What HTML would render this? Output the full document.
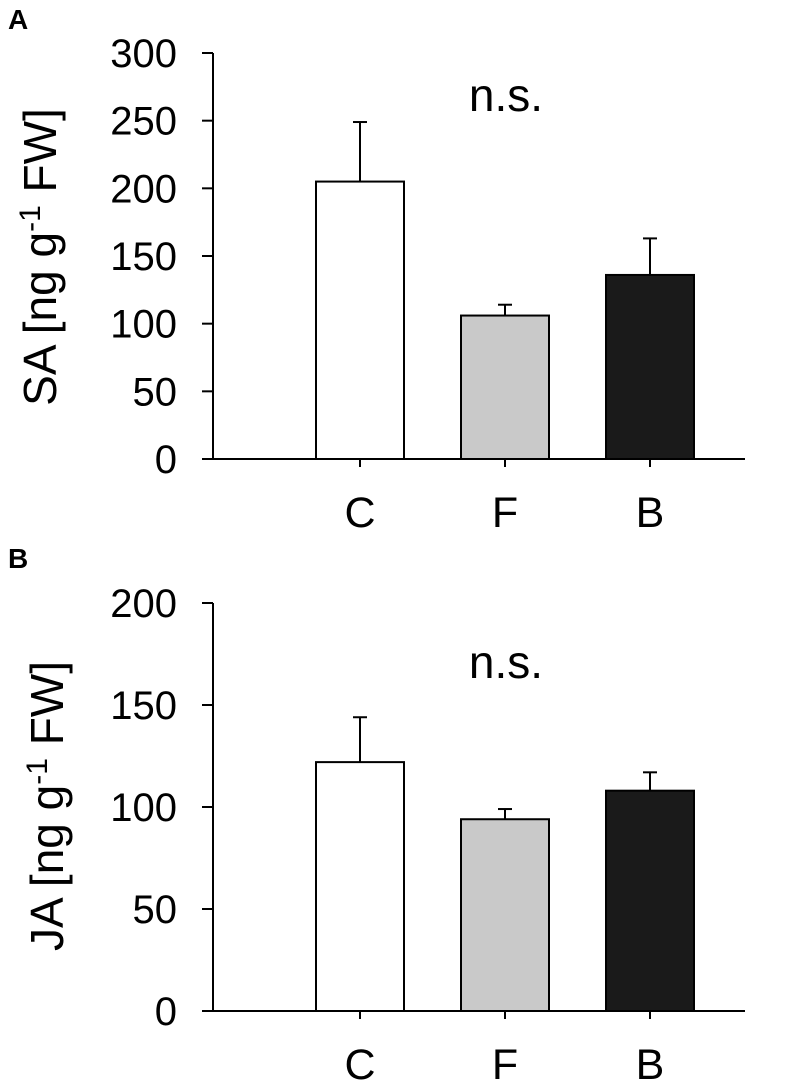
<!DOCTYPE html>
<html><head><meta charset="utf-8"><style>
body{margin:0;background:#fff;}
svg{display:block;font-family:"Liberation Sans",Arial,sans-serif;}
</style></head><body>
<svg id="chart" width="804" height="1088"></svg>
<script>
const categories=["C","F","B"];
const saValues=[205,106,136];
const saErrors=[44,8,27];
const saTicks=[0,50,100,150,200,250,300];
const jaValues=[122,94,108];
const jaErrors=[22,5,9];
const jaTicks=[0,50,100,150,200];
const fills=["#ffffff","#c9c9c9","#1a1a1a"];
const NS="http://www.w3.org/2000/svg";
const svg=document.getElementById('chart');
function mk(tag,attrs,parent){const e=document.createElementNS(NS,tag);for(const k in attrs)e.setAttribute(k,attrs[k]);(parent||svg).appendChild(e);return e;}
function panel(p){
  const g=mk('g',{});
  
  
  const ax=213, xr=745;
  const y=v=>p.y0-(v-0)/p.max*(p.y0-p.yTop);
  const xc=i=>360+i*145;
  const bw=88;
  const lab=mk('text',{x:8,y:p.labelY,'font-size':28,'font-weight':'bold'},g);lab.textContent=p.letter;
  
  
  categories.forEach((c,i)=>{
    const v=p.values[i],e=p.errors[i];
    const el=mk('line',{x1:xc(i),x2:xc(i),y1:y(v),y2:y(v+e),stroke:'#000','stroke-width':2},g);
    
    
    const cap=mk('line',{x1:xc(i)-7,x2:xc(i)+7,y1:y(v+e),y2:y(v+e),stroke:'#000','stroke-width':2},g);
    
    
    const r=mk('rect',{x:xc(i)-bw/2,y:y(v),width:bw,height:p.y0-y(v),fill:fills[i],stroke:'#000','stroke-width':2},g);
    
    
    const t=mk('line',{x1:xc(i),x2:xc(i),y1:p.y0,y2:p.y0+8,stroke:'#000','stroke-width':2},g);
    
    
    const tl=mk('text',{x:xc(i),y:p.y0+68,'font-size':43,'text-anchor':'middle'},g);tl.textContent=c;
    
    
  });
  const yax=mk('line',{x1:ax,x2:ax,y1:p.yTop,y2:p.y0+1,stroke:'#000','stroke-width':2},g);
  
  
  const xax=mk('line',{x1:ax,x2:xr,y1:p.y0,y2:p.y0,stroke:'#000','stroke-width':2},g);
  
  
  p.ticks.forEach(t=>{
    const tk=mk('line',{x1:ax-11,x2:ax,y1:y(t),y2:y(t),stroke:'#000','stroke-width':2},g);
    
    
    const tl=mk('text',{x:177,y:y(t)+14,'font-size':40,'text-anchor':'end'},g);tl.textContent=t;
    
    
  });
  const ttl=mk('text',{x:0,y:0,'font-size':46,'text-anchor':'middle',transform:`translate(${p.titleX},${p.titleY}) rotate(-90)`},g);
  ttl.innerHTML=p.title+' [ng g<tspan dy="-16" font-size="30">-1</tspan><tspan dy="16"> FW]</tspan>';
  
  
  const ns=mk('text',{x:506,y:p.nsY,'font-size':46,'text-anchor':'middle'},g);ns.textContent='n.s.';
  
  
}
panel({name:'panel-a-sa',letter:'A',labelY:29,title:'SA',values:saValues,errors:saErrors,ticks:saTicks,max:300,y0:459,yTop:53,nsY:111,titleX:56,titleY:257});
panel({name:'panel-b-ja',letter:'B',labelY:568,title:'JA',values:jaValues,errors:jaErrors,ticks:jaTicks,max:200,y0:1011,yTop:603,nsY:678,titleX:63,titleY:806});
</script>
</body></html>
